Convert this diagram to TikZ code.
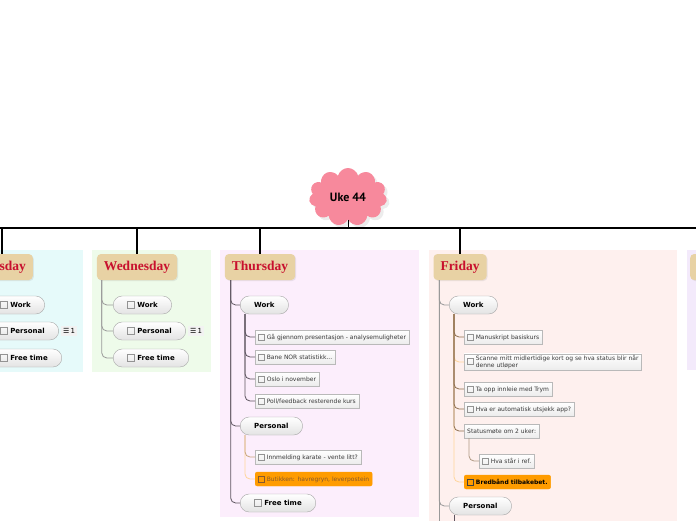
\documentclass[tikz,border=0pt]{standalone}
\usepackage{fontspec}
\setmainfont{DejaVu Sans}
\newfontfamily\dayfont{Liberation Serif}
\newfontfamily\cloudfont{PT Sans}
\usepackage{xcolor}
\usetikzlibrary{positioning,shapes.symbols,shadows}

\definecolor{daytan}{HTML}{E8D2A4}
\definecolor{dayred}{HTML}{C8102E}
\definecolor{cloudpink}{HTML}{F7899C}
\definecolor{tuebg}{HTML}{E6FAFA}
\definecolor{wedbg}{HTML}{EEFBEA}
\definecolor{thubg}{HTML}{FCEEFC}
\definecolor{fribg}{HTML}{FEF0EE}
\definecolor{satbg}{HTML}{F3EAFB}
\definecolor{hotorange}{HTML}{FF9C00}
\definecolor{linkdark}{HTML}{5E5560}
\definecolor{linkbrown}{HTML}{8E6E4E}
\definecolor{linktan}{HTML}{C9A67C}
\definecolor{linklight}{HTML}{FFD59A}

\newcommand{\chk}[1][gray!85]{{\color{#1}\setlength{\fboxsep}{0pt}\setlength{\fboxrule}{0.5pt}%
  \raisebox{-0.08em}{\fbox{\rule{0pt}{0.95em}\rule{0.95em}{0pt}}}}}
\newcommand{\notebadge}{☰\,1}

\begin{document}
\begin{tikzpicture}[
x=1pt, y=-1pt,
day/.style={fill=daytan, rounded corners=4pt, minimum height=26pt, inner xsep=7pt,
  font=\dayfont\bfseries\fontsize{13.5}{15}\selectfont, text=dayred,
  drop shadow={opacity=0.15, shadow xshift=1pt, shadow yshift=-1pt}},
pill/.style={draw=gray!70, rounded corners=9pt, top color=white, bottom color=gray!22,
  minimum height=18pt, inner xsep=14pt, anchor=west,
  font=\bfseries\fontsize{7}{8}\selectfont},
task/.style={draw=gray!55, top color=white, bottom color=gray!15, minimum height=14pt,
  inner xsep=3pt, inner ysep=1pt, anchor=west, text=gray!45!black,
  font=\fontsize{6}{7}\selectfont},
hot/.style={task, draw=hotorange, top color=hotorange, bottom color=hotorange, rounded corners=2pt},
badge/.style={fill=gray!10, inner sep=2pt, font=\fontsize{7}{8}\selectfont},
link/.style={draw=#1, line width=0.8pt, rounded corners=5pt},
link/.default=linkdark,
bar/.style={black, line width=1.5pt}
]
\useasboundingbox (0,0) rectangle (696,520);
\clip (0,0) rectangle (696,520);

% day panels
\fill[tuebg] (-10,250) rectangle (83,372);
\fill[wedbg] (92,250) rectangle (211,372);
\fill[thubg] (220,250) rectangle (419,517);
\fill[fribg] (429,250) rectangle (677,530);
\fill[satbg] (687,250) rectangle (710,370);

% centre topic
\node[cloud, cloud puffs=11, aspect=1.45, fill=cloudpink, minimum width=78pt, minimum height=58pt,
  font=\cloudfont\bfseries\fontsize{12}{14}\selectfont, drop shadow={opacity=0.15}] (uke) at (348,197) {Uke 44};
\coordinate (barL) at (-5,228);
\coordinate (barR) at (701,228);
\draw[bar] (barL) -- (barR);
\draw[bar, line width=1pt] (uke.south) -- (uke.south |- barL);

% days
\node[day] (tue) at (2,267) {Tuesday};
\node[day] (wed) at (137,267) {Wednesday};
\node[day] (thu) at (260,267) {Thursday};
\node[day] (fri) at (460,267) {Friday};
\node[day, anchor=west] (sat) at (690,267) {Saturday};
\foreach \d in {tue,wed,thu,fri}
  \draw[bar, line width=1.2pt] (\d.north |- barL) -- (\d.north);

% Tuesday
\node[pill] (tuework) at (-14,305) {\chk\ Work};
\node[pill] (tuepers) at (-14,331) {\chk\ Personal};
\node[badge, right=2pt of tuepers] (tuenote) {\notebadge};
\node[pill] (tuefree) at (-14,358) {\chk\ Free time};
\foreach \c in {tuework,tuepers,tuefree}
  \draw[link=gray!80] ([xshift=5pt]tue.south west) |- (\c.west);

% Wednesday
\node[pill] (wedwork) at (113,305) {\chk\ Work};
\node[pill] (wedpers) at (113,331) {\chk\ Personal};
\node[badge, right=2pt of wedpers] (wednote) {\notebadge};
\node[pill] (wedfree) at (113,358) {\chk\ Free time};
\foreach \c in {wedwork,wedpers,wedfree}
  \draw[link=gray!80] ([xshift=5pt]wed.south west) |- (\c.west);

% Thursday
\node[pill] (thuwork) at (240,305) {Work};
\node[task] (thut1) at (255,337) {\chk\ Gå gjennom presentasjon - analysemuligheter};
\node[task] (thut2) at (255,357) {\chk\ Bane NOR statistikk...};
\node[task] (thut3) at (255,379) {\chk\ Oslo i november};
\node[task] (thut4) at (255,401) {\chk\ Poll/feedback resterende kurs};
\node[pill] (thupers) at (240,426) {Personal};
\node[task] (thup1) at (255,457) {\chk\ Innmelding karate - vente litt?};
\node[hot, text=brown!70!black] (thup2) at (255,479) {\chk[brown!70!black]\ Butikken: havregryn, leverpostein};
\node[pill] (thufree) at (240,503) {\chk\ Free time};
\foreach \c in {thuwork,thupers,thufree}
  \draw[link] ([xshift=6pt]thu.south west) |- (\c.west);
\foreach \c in {thut1,thut2,thut3,thut4}
  \draw[link] ([xshift=5pt]thuwork.south west) |- (\c.west);
\draw[link=linklight] ([xshift=5pt]thupers.south west) |- (thup2.west);
\draw[link=linktan] ([xshift=5pt]thupers.south west) |- (thup1.west);

% Friday
\node[pill] (friwork) at (449,305) {Work};
\node[task] (frit1) at (464,337) {\chk\ Manuskript basiskurs};
\node[task] (frit2) at (464,362) {\chk\ \begin{tabular}[c]{@{}l@{}}Scanne mitt midlertidige kort og se hva status blir når\\denne utløper\end{tabular}};
\node[task] (frit3) at (464,389) {\chk\ Ta opp innleie med Trym};
\node[task] (frit4) at (464,409) {\chk\ Hva er automatisk utsjekk app?};
\node[task] (frit5) at (464,431) {Statusmøte om 2 uker:};
\node[task] (frit5a) at (479,461) {\chk\ Hva står i ref.};
\node[hot, text=black, font=\bfseries\fontsize{6}{7}\selectfont] (frit6) at (464,482) {\chk[black!75]\ Bredbånd tilbakebet.};
\node[pill] (fripers) at (449,506) {Personal};
\coordinate (frimore) at ([xshift=6pt]fri.south west |- 0,530);
\coordinate (fripersmore) at ([xshift=5pt]fripers.south west |- 0,530);
\foreach \c in {friwork,fripers}
  \draw[link=gray!80] ([xshift=6pt]fri.south west) |- (\c.west);
\draw[link=gray!80] ([xshift=6pt]fri.south west) -- (frimore);
\draw[link=linklight] ([xshift=5pt]friwork.south west) |- (frit6.west);
\draw[link=linklight] ([xshift=5pt]friwork.south west) |- (frit2.west);
\foreach \c in {frit1,frit3,frit4,frit5}
  \draw[link=linkbrown] ([xshift=5pt]friwork.south west) |- (\c.west);
\draw[link=linkbrown!70] ([xshift=5pt]frit5.south west) |- (frit5a.west);
\draw[link=linkdark] ([xshift=5pt]fripers.south west) -- (fripersmore);
\end{tikzpicture}
\end{document}
